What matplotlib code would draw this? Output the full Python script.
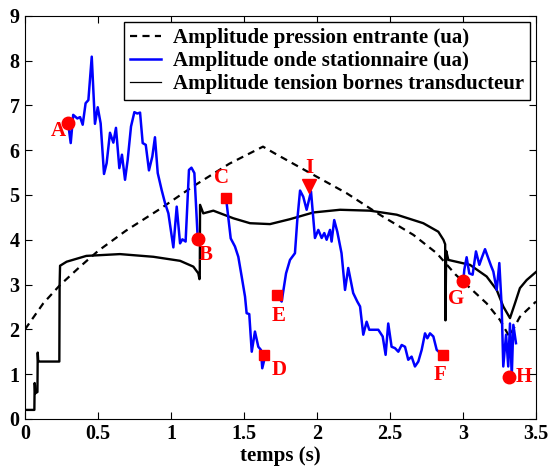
import numpy as np
import matplotlib.pyplot as plt
from matplotlib.lines import Line2D

plt.rcParams['font.family'] = ['Liberation Serif', 'DejaVu Serif']
plt.rcParams['font.weight'] = 'bold'

# amplitude pression entrante (dashed)
t_pres = [0.0, 0.125, 0.24, 0.377, 0.5, 0.69, 0.93, 1.15, 1.4, 1.63, 1.71,
          1.975, 2.203, 2.43, 2.66, 2.82, 2.95, 3.162, 3.253, 3.317, 3.39, 3.5]
a_pres = [2.0, 2.58, 2.99, 3.4, 3.75, 4.2, 4.7, 5.19, 5.7, 6.08, 5.93,
          5.45, 5.04, 4.56, 4.11, 3.7, 3.22, 2.58, 2.21, 1.84, 2.28, 2.62]

# amplitude tension bornes transducteur (thin black)
t_tens = [0.0, 0.064, 0.066, 0.068, 0.07, 0.085, 0.087, 0.09, 0.1, 0.235, 0.237,
          0.24, 0.285, 0.42, 0.65, 0.879, 1.062, 1.153, 1.187, 1.195, 1.197,
          1.199, 1.221, 1.29, 1.427, 1.541, 1.678, 1.815, 1.975, 2.158, 2.363,
          2.546, 2.728, 2.831, 2.866, 2.878, 2.88, 2.885, 2.9, 3.048, 3.162,
          3.231, 3.276, 3.322, 3.356, 3.39, 3.436, 3.5]
a_tens = [0.2, 0.2, 0.8, 0.75, 0.57, 0.6, 1.48, 1.3, 1.28, 1.28, 3.0,
          3.42, 3.51, 3.64, 3.68, 3.62, 3.53, 3.4, 3.25, 3.12, 3.2,
          4.78, 4.59, 4.65, 4.48, 4.37, 4.35, 4.46, 4.61, 4.67, 4.65,
          4.56, 4.37, 4.18, 4.0, 3.9, 2.2, 3.75, 3.55, 3.44, 3.18,
          2.88, 2.51, 2.25, 2.58, 2.92, 3.1, 3.28]

# amplitude onde stationnaire (blue), four segments
t_ond1 = [0.295, 0.313, 0.33, 0.358, 0.377, 0.395, 0.415, 0.434, 0.457, 0.479,
          0.498, 0.518, 0.541, 0.559, 0.582, 0.605, 0.623, 0.646, 0.664, 0.685,
          0.703, 0.726, 0.749, 0.769, 0.788, 0.806, 0.827, 0.849, 0.872, 0.89,
          0.909, 0.936, 0.959, 0.982, 1.016, 1.039, 1.062, 1.078, 1.1, 1.123,
          1.14, 1.16, 1.183]
a_ond1 = [6.61, 6.16, 6.79, 6.71, 6.74, 6.57, 7.05, 7.12, 8.09, 6.59,
          6.96, 6.6, 5.47, 5.71, 6.39, 6.17, 6.5, 5.6, 5.9, 5.34,
          5.78, 6.53, 6.85, 6.82, 6.84, 6.16, 6.12, 5.55, 5.86, 6.29,
          5.49, 5.11, 4.82, 4.59, 3.83, 4.74, 3.92, 4.01, 3.96, 5.56,
          5.61, 5.49, 4.03]
t_ond2 = [1.375, 1.381, 1.409, 1.438, 1.461, 1.484, 1.507, 1.518, 1.536, 1.553,
          1.575, 1.598, 1.616, 1.625, 1.644]
a_ond2 = [4.94, 4.82, 4.03, 3.85, 3.62, 3.18, 2.73, 2.36, 2.34, 1.5,
          1.95, 1.61, 1.54, 1.13, 1.39]
t_ond3 = [1.724, 1.758, 1.788, 1.815, 1.849, 1.865, 1.884, 1.906, 1.929, 1.959,
          1.986, 2.009, 2.032, 2.05, 2.066, 2.089, 2.1, 2.118, 2.139, 2.168,
          2.192, 2.214, 2.248, 2.276, 2.295, 2.317, 2.34, 2.358, 2.386, 2.42,
          2.45, 2.47, 2.488, 2.511, 2.534, 2.557, 2.58, 2.603, 2.625, 2.648,
          2.671, 2.694, 2.717, 2.74, 2.756, 2.774, 2.797, 2.82, 2.86]
a_ond3 = [2.77, 2.62, 3.25, 3.55, 3.7, 4.44, 5.1, 4.96, 4.67, 5.08,
          4.04, 4.22, 4.04, 4.15, 4.0, 4.22, 3.96, 4.44, 4.18, 3.7,
          2.88, 3.37, 2.81, 2.62, 2.51, 1.88, 2.17, 1.99, 1.99, 1.99,
          1.84, 1.43, 2.13, 1.61, 1.58, 1.5, 1.65, 1.61, 1.32, 1.39,
          1.17, 1.28, 1.54, 1.91, 1.8, 1.91, 1.84, 1.54, 1.43]
t_ond4 = [3.002, 3.009, 3.025, 3.043, 3.066, 3.089, 3.112, 3.128, 3.151, 3.173,
          3.192, 3.208, 3.231, 3.249, 3.265, 3.276, 3.295, 3.31, 3.322, 3.334,
          3.345, 3.363]
a_ond4 = [3.07, 3.33, 3.61, 3.25, 3.22, 3.74, 3.44, 3.59, 3.79, 3.59,
          3.42, 3.29, 2.88, 3.48, 2.51, 1.17, 1.88, 1.17, 2.13, 0.94,
          2.1, 1.69]

# points remarquables
pt_names = ['A', 'B', 'C', 'D', 'E', 'F', 'G', 'H', 'I']
pt_t = [0.295, 1.183, 1.375, 1.64, 1.724, 2.86, 3.002, 3.317, 1.947]
pt_a = [6.61, 4.01, 4.94, 1.43, 2.77, 1.43, 3.07, 0.94, 5.2]
pt_mark = ['o', 'o', 's', 's', 's', 's', 'o', 'o', 'v']
lab_t = [0.226, 1.24, 1.347, 1.742, 1.74, 2.842, 2.95, 3.413, 1.947]
lab_a = [6.44, 3.66, 5.37, 1.09, 2.29, 0.98, 2.67, 0.94, 5.6]

fig = plt.figure(figsize=(5.5, 4.68), dpi=100)
ax = fig.add_axes([0.0455, 0.105, 0.929, 0.861])

ax.plot(t_pres, a_pres, 'k--', lw=1.6, dashes=(3.2, 2.4))
ax.plot(t_ond1, a_ond1, color='#0000ff', lw=1.8)
ax.plot(t_tens, a_tens, 'k-', lw=1.7)
for tt, aa in [(t_ond2, a_ond2), (t_ond3, a_ond3), (t_ond4, a_ond4)]:
    ax.plot(tt, aa, color='#0000ff', lw=1.8)

for i in range(len(pt_names)):
    ms = {'o': 9, 's': 7.5, 'v': 9.5}[pt_mark[i]]
    ax.plot(pt_t[i], pt_a[i], marker=pt_mark[i], color='#ff0000', ms=ms, ls='none')
    ax.text(lab_t[i], lab_a[i], pt_names[i], color='#ff0000', fontsize=15,
            fontweight='bold', ha='center', va='center')

ax.set_xlim(0, 3.5)
ax.set_ylim(0, 9)
ax.set_xticks([0, 0.5, 1, 1.5, 2, 2.5, 3, 3.5])
ax.set_xticklabels(['0', '0.5', '1', '1.5', '2', '2.5', '3', '3.5'])
ax.set_yticks(range(10))
ax.tick_params(direction='in', top=True, right=True, labelsize=14.5, length=5, pad=4)
for lab in ax.get_xticklabels() + ax.get_yticklabels():
    lab.set_fontweight('bold')
ax.set_xlabel('temps (s)', fontsize=15, fontweight='bold', labelpad=1)

handles = [Line2D([], [], color='k', ls='--', lw=1.6, dashes=(3.2, 2.4)),
           Line2D([], [], color='#0000ff', lw=1.8),
           Line2D([], [], color='k', lw=0.9)]
labels = ['Amplitude pression entrante (ua)', 'Amplitude onde stationnaire (ua)',
          'Amplitude tension bornes transducteur']
leg = ax.legend(handles, labels, loc='upper right', prop={'size': 15, 'weight': 'bold'},
                fancybox=False, edgecolor='k', framealpha=1, handlelength=1.5,
                borderaxespad=0.28, labelspacing=0.15, borderpad=0.3,
                handletextpad=0.55)
leg.get_frame().set_linewidth(1.0)

fig.savefig('out.png', dpi=100)
